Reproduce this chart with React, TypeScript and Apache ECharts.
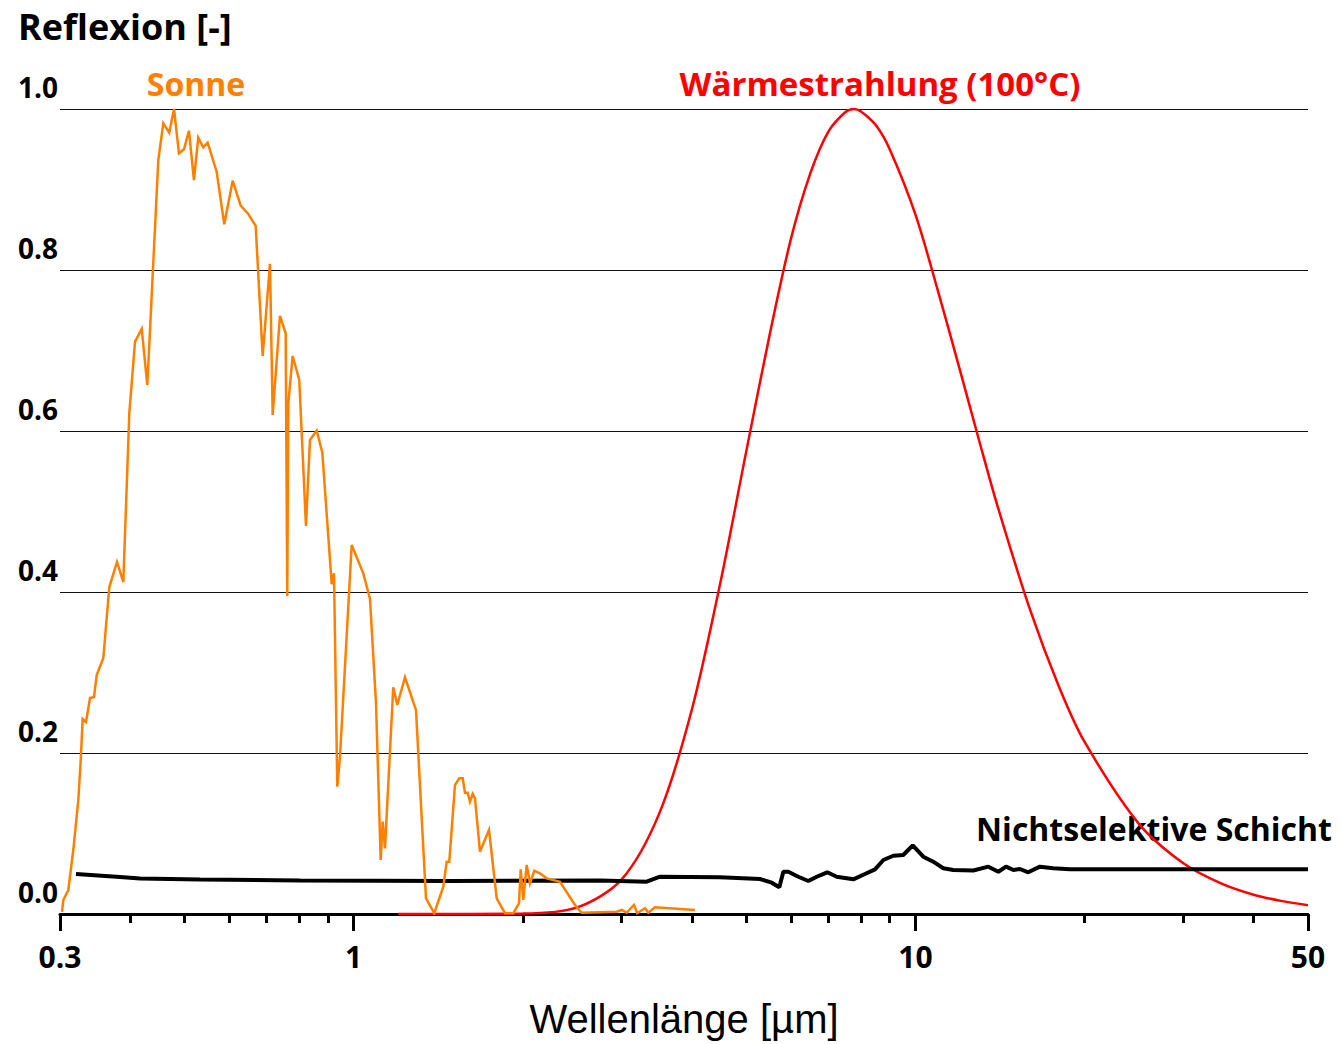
import React, { useEffect, useRef } from "react";
import * as echarts from "echarts";

// Axis ticks (wavelength in µm, logarithmic axis)
const majorTicks = [0.3, 1, 10, 50];
const minorTicks = [0.4, 0.5, 0.6, 0.7, 0.8, 0.9, 2, 3, 4, 5, 6, 7, 8, 9, 20, 30, 40];
const yMin = 0;
const yMax = 1;
const yStep = 0.2;

// Sonne (solar spectrum, normalised)
const sunWavelength = [
  0.3025, 0.3041, 0.3104, 0.3168, 0.3234, 0.3266, 0.3292, 0.3337, 0.3393, 0.3449,
  0.3487, 0.3583, 0.3672, 0.379, 0.3889, 0.3986, 0.408, 0.4194, 0.4291, 0.4489,
  0.4582, 0.4695, 0.4787, 0.4886, 0.4987, 0.509, 0.5195, 0.5288, 0.5397, 0.5495,
  0.5702, 0.5882, 0.6089, 0.6292, 0.6491, 0.6691, 0.6886, 0.7095, 0.7174, 0.7392,
  0.7567, 0.7616, 0.7648, 0.7787, 0.8, 0.8223, 0.8359, 0.8593, 0.8792, 0.9138,
  0.9224, 0.935, 0.9454, 0.9918, 1.0401, 1.0691, 1.0957, 1.117, 1.1262, 1.1368,
  1.1761, 1.1956, 1.234, 1.2909, 1.3449, 1.3914, 1.4438, 1.464, 1.4797, 1.5146,
  1.5416, 1.5632, 1.578, 1.5956, 1.6107, 1.6286, 1.6441, 1.6781, 1.7413, 1.7972,
  1.8594, 1.9237, 1.9692, 1.983, 2.0042, 2.0324, 2.06, 2.0967, 2.1463, 2.206,
  2.3297, 2.4772, 2.5461, 2.939, 3.0, 3.062, 3.155, 3.198, 3.3006, 3.3456,
  3.4386, 4.0515,
];
const sunReflexion = [
  0.0025, 0.0174, 0.0298, 0.0795, 0.1416, 0.1913, 0.2422, 0.2385, 0.2683, 0.2696,
  0.2969, 0.318, 0.4062, 0.4373, 0.4124, 0.6224, 0.7109, 0.7267, 0.6571, 0.9366,
  0.9822, 0.9706, 1.0, 0.945, 0.95, 0.973, 0.9118, 0.9644, 0.9524, 0.9581,
  0.9221, 0.8568, 0.911, 0.8799, 0.8696, 0.8547, 0.6932, 0.8075, 0.6199, 0.7429,
  0.7214, 0.395, 0.6344, 0.6932, 0.6634, 0.482, 0.5888, 0.6004, 0.5735, 0.4096,
  0.4232, 0.1581, 0.1954, 0.4584, 0.4232, 0.3913, 0.2621, 0.0671, 0.1147, 0.0816,
  0.2816, 0.2596, 0.294, 0.2534, 0.0195, 0.001, 0.0339, 0.065, 0.065, 0.1602,
  0.1686, 0.1686, 0.1507, 0.1507, 0.1395, 0.1491, 0.1437, 0.0774, 0.1043, 0.0195,
  0.001, 0.001, 0.0133, 0.0555, 0.0174, 0.0609, 0.0381, 0.0538, 0.0506, 0.0443,
  0.0401, 0.0112, 0.0016, 0.0029, 0.005, 0.0016, 0.0112, 0.001, 0.0071, 0.0016,
  0.0083, 0.005,
];

// Wärmestrahlung (100 °C), normalised
const thermalWavelength = [
  1.2, 2, 2.5, 3, 3.5, 4, 4.5, 5, 5.5, 6, 6.5, 7, 7.5, 7.77, 8, 8.5, 9, 10, 11, 12,
  13, 14, 16, 18, 20, 25, 30, 35, 40, 45, 50,
];
const thermalReflexion = [
  0.0, 0.0005, 0.0082, 0.043, 0.125, 0.254, 0.413, 0.575, 0.719, 0.838, 0.92, 0.972,
  0.996, 1.0, 0.997, 0.98, 0.95, 0.869, 0.771, 0.676, 0.587, 0.507, 0.378, 0.283,
  0.214, 0.112, 0.063, 0.038, 0.024, 0.016, 0.011,
];

// Nichtselektive Schicht
const layerWavelength = [
  0.3203, 0.3836, 0.4165, 0.5325, 0.8023, 1.4839, 2.7449, 3.3237, 3.5099, 4.4887,
  5.2897, 5.549, 5.725, 5.8195, 5.94, 6.1884, 6.447, 6.6735, 6.968, 7.243, 7.752,
  8.133, 8.475, 8.769, 9.135, 9.516, 9.891, 10.33, 10.76, 11.21, 11.68, 12.68,
  13.49, 14.05, 14.5, 14.94, 15.35, 15.88, 16.66, 17.6, 18.84, 50,
];
const layerReflexion = [
  0.0497, 0.046, 0.0441, 0.0429, 0.0416, 0.041, 0.0416, 0.0401, 0.0463, 0.0455,
  0.0435, 0.0389, 0.0332, 0.0525, 0.0525, 0.0463, 0.041, 0.0463, 0.0518, 0.0463,
  0.0431, 0.0497, 0.0555, 0.0671, 0.0724, 0.0733, 0.0853, 0.0712, 0.065, 0.0568,
  0.0547, 0.054, 0.0588, 0.0525, 0.0588, 0.0547, 0.0559, 0.0518, 0.0588, 0.0568,
  0.0555, 0.0555,
];

const FONT = "'Open Sans', 'Noto Sans', sans-serif";
const toPairs = (w: number[], r: number[]) => w.map((v, i) => [Math.log10(v), r[i]]);
const fmtWave = (v: number) => {
  const w = Math.pow(10, v);
  return w < 0.95 ? w.toFixed(1) : String(Math.round(w));
};

export default function App() {
  const ref = useRef<HTMLDivElement>(null);
  useEffect(() => {
    document.body.style.margin = "0";
    if (!ref.current) return;
    const chart = echarts.init(ref.current, null, { renderer: "svg" });
    const xMin = Math.log10(majorTicks[0]);
    const xMax = Math.log10(majorTicks[majorTicks.length - 1]);
    const majorLog = majorTicks.map((t) => Math.log10(t));
    const minorLog = minorTicks.map((t) => Math.log10(t));
    chart.setOption({
      animation: false,
      backgroundColor: "#ffffff",
      grid: { left: 60, right: 34, top: 109, bottom: 130 },
      xAxis: [
        {
          type: "value",
          min: xMin,
          max: xMax,
          position: "bottom",
          name: "Wellenlänge [µm]",
          nameLocation: "middle",
          nameGap: 85,
          nameTextStyle: { fontFamily: "'Liberation Sans', Arial, sans-serif", fontSize: 40, color: "#000" },
          axisLine: { show: true, lineStyle: { color: "#000", width: 3 } },
          axisTick: { show: true, customValues: majorLog, length: 17, lineStyle: { color: "#000", width: 3 } },
          axisLabel: {
            customValues: majorLog,
            formatter: (v: number) => fmtWave(v),
            margin: 27,
            fontFamily: FONT,
            fontWeight: "bold",
            fontSize: 30,
            color: "#000",
          },
          splitLine: { show: false },
        },
        {
          type: "value",
          min: xMin,
          max: xMax,
          position: "bottom",
          axisLine: { show: false },
          axisTick: { show: true, customValues: minorLog, length: 9, lineStyle: { color: "#000", width: 3 } },
          axisLabel: { show: false },
          splitLine: { show: false },
        },
      ],
      yAxis: {
        type: "value",
        min: yMin,
        max: yMax,
        interval: yStep,
        axisLine: { show: false },
        axisTick: { show: false },
        axisLabel: {
          formatter: (v: number) => v.toFixed(1),
          margin: 2,
          verticalAlign: "bottom",
          padding: [0, 0, 8, 0],
          fontFamily: FONT,
          fontWeight: "bold",
          fontSize: 28,
          color: "#000",
        },
        splitLine: { show: true, lineStyle: { color: "#111", width: 1 } },
      },
      graphic: [
        { type: "text", x: 18, y: 26, style: { text: "Reflexion [-]", fill: "#000", font: `bold 36px ${FONT}`, align: "left", verticalAlign: "middle" } },
        { type: "text", x: 196, y: 83, style: { text: "Sonne", fill: "#ff8000", font: `bold 32px ${FONT}`, align: "center", verticalAlign: "middle" } },
        { type: "text", x: 880, y: 83, style: { text: "Wärmestrahlung (100°C)", fill: "#ff0000", font: `bold 33px ${FONT}`, align: "center", verticalAlign: "middle" } },
        { type: "text", x: 1154, y: 828, style: { text: "Nichtselektive Schicht", fill: "#000", font: `bold 32px ${FONT}`, align: "center", verticalAlign: "middle" } },
      ],
      series: [
        {
          name: "Wärmestrahlung (100°C)",
          type: "line",
          xAxisIndex: 0,
          data: toPairs(thermalWavelength, thermalReflexion),
          showSymbol: false,
          smooth: 0.3,
          lineStyle: { color: "#ff0000", width: 2.5 },
          z: 2,
        },
        {
          name: "Nichtselektive Schicht",
          type: "line",
          xAxisIndex: 0,
          data: toPairs(layerWavelength, layerReflexion),
          showSymbol: false,
          lineStyle: { color: "#000", width: 4 },
          z: 3,
        },
        {
          name: "Sonne",
          type: "line",
          xAxisIndex: 0,
          data: toPairs(sunWavelength, sunReflexion),
          showSymbol: false,
          lineStyle: { color: "#ff8000", width: 2.5, join: "miter" },
          z: 4,
        },
      ],
    });
    return () => chart.dispose();
  }, []);
  return <div ref={ref} style={{ width: 1342, height: 1044 }} />;
}
